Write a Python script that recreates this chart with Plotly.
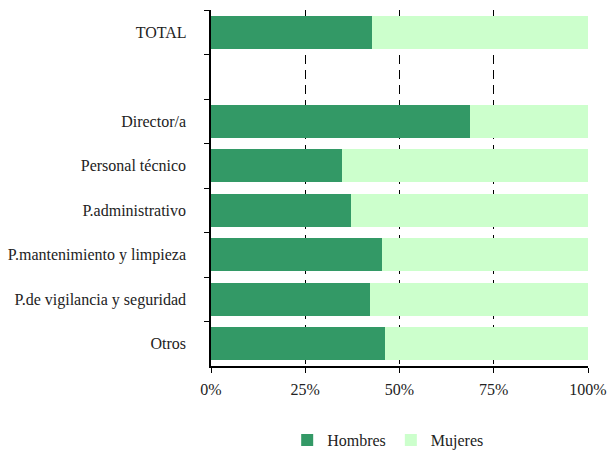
import plotly.graph_objects as go

categories = ["TOTAL", " ", "Director/a", "Personal técnico", "P.administrativo",
              "P.mantenimiento y limpieza", "P.de vigilancia y seguridad", "Otros"]
hombres = [42.8, None, 68.8, 34.8, 37.2, 45.4, 42.2, 46.2]
mujeres = [None if h is None else round(100 - h, 1) for h in hombres]
x_ticks = [0, 25, 50, 75, 100]
x_tick_labels = ["0%", "25%", "50%", "75%", "100%"]

font = dict(family="Liberation Serif, Times New Roman, serif", size=16, color="#222222")

fig = go.Figure()
fig.add_trace(go.Bar(y=categories, x=hombres, name="Hombres", orientation="h",
                     marker=dict(color="#339966", line=dict(width=0))))
fig.add_trace(go.Bar(y=categories, x=mujeres, name="Mujeres", orientation="h",
                     marker=dict(color="#CCFFCC", line=dict(width=0))))

fig.update_layout(
    barmode="stack",
    bargap=0.25,
    width=608, height=450,
    margin=dict(l=211, r=20, t=10, b=84),
    plot_bgcolor="white", paper_bgcolor="white",
    font=font,
    showlegend=True,
    legend=dict(orientation="h", x=0.47, xanchor="center",
                yref="container", y=0.022, yanchor="middle",
                traceorder="normal", font=font, itemwidth=30),
    xaxis=dict(range=[0, 100], tickvals=x_ticks, ticktext=x_tick_labels,
               showgrid=True, gridcolor="black", gridwidth=1, griddash="9px,6px",
               showline=True, linecolor="black", linewidth=1.5,
               ticks="outside", ticklen=5, tickcolor="black", zeroline=False,
               ticklabelstandoff=3, fixedrange=True, automargin=False),
    yaxis=dict(autorange="reversed", showline=True, linecolor="black", linewidth=1.5,
               ticks="outside", ticklen=5, tickcolor="black", tickson="boundaries",
               showgrid=False, ticksuffix="     ", fixedrange=True, automargin=False),
)

fig.write_html("out.html", config={"displayModeBar": False},
               post_script="document.body.style.margin='0';")
